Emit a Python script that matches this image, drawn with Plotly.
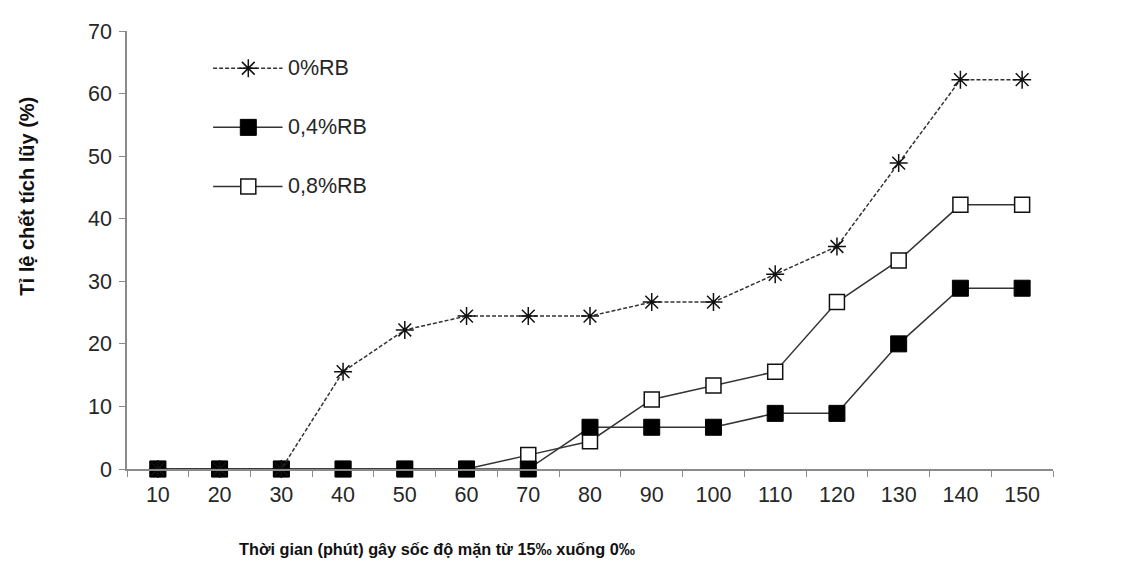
import plotly.graph_objects as go

categories = ["10", "20", "30", "40", "50", "60", "70", "80", "90", "100", "110", "120", "130", "140", "150"]
rb_0 = [0, 0, 0, 15.56, 22.22, 24.44, 24.44, 24.44, 26.67, 26.67, 31.11, 35.56, 48.89, 62.22, 62.22]
rb_04 = [0, 0, 0, 0, 0, 0, 0, 6.67, 6.67, 6.67, 8.89, 8.89, 20.0, 28.89, 28.89]
rb_08 = [0, 0, 0, 0, 0, 0, 2.22, 4.44, 11.11, 13.33, 15.56, 26.67, 33.33, 42.22, 42.22]
series_names = ["0%RB", "0,4%RB", "0,8%RB"]
end_labels = ["62,22<sup>b</sup>", "28,89<sup>a</sup>", "42,22<sup>a</sup>"]
y_ticks = [0, 10, 20, 30, 40, 50, 60, 70]

FONT = "Liberation Sans, Arial, sans-serif"
TXT = "#262626"
AX = "#8a8a8a"
LINE = "#333333"

styles = [
    dict(line=dict(color=LINE, width=1.5, dash="4px,2px"),
         marker=dict(symbol="asterisk-open", size=15, color="#111", line=dict(color="#111", width=1.5))),
    dict(line=dict(color=LINE, width=1.5),
         marker=dict(symbol="square", size=16, color="#000", line=dict(color="#000", width=1))),
    dict(line=dict(color=LINE, width=1.5),
         marker=dict(symbol="square", size=15, color="#fff", line=dict(color="#111", width=1.5))),
]
series = [rb_0, rb_04, rb_08]
draw_order = [2, 1, 0]

fig = go.Figure()
for i in draw_order:
    fig.add_trace(go.Scatter(x=categories, y=series[i], mode="lines+markers", name=series_names[i],
                             showlegend=False, cliponaxis=False, **styles[i]))

# custom legend (drawn on an overlay axis in plot-fraction units)
legend_rows = [0.915, 0.780, 0.645]
legend_x = [0.093, 0.168]
legend_mid = 0.131
for i in range(3):
    st = styles[i]
    fig.add_trace(go.Scatter(x=legend_x, y=[legend_rows[i]] * 2, mode="lines", line=st["line"],
                             xaxis="x2", yaxis="y2", showlegend=False, hoverinfo="skip"))
    fig.add_trace(go.Scatter(x=[legend_mid], y=[legend_rows[i]], mode="markers", marker=st["marker"],
                             xaxis="x2", yaxis="y2", showlegend=False, hoverinfo="skip"))
    fig.add_annotation(x=legend_x[1], y=legend_rows[i], xref="x2", yref="y2", text=series_names[i],
                       showarrow=False, xanchor="left", xshift=3, font=dict(family=FONT, size=21.5, color=TXT))

for i in range(3):
    fig.add_annotation(x=categories[-1], y=series[i][-1], text=end_labels[i], showarrow=False,
                       xanchor="left", xshift=21, font=dict(family=FONT, size=21.5, color=TXT))

fig.add_annotation(x=0.335, y=-0.207, xref="paper", yref="paper",
                   text="<b>Thời gian (phút) gây sốc độ mặn từ 15‰ xuống 0‰</b>", showarrow=False,
                   font=dict(family=FONT, size=16.3, color="#111"))
fig.add_annotation(x=-0.123, y=0.622, xref="paper", yref="paper", textangle=-90,
                   text="<b>Tỉ lệ chết tích lũy (%)</b>", showarrow=False,
                   font=dict(family=FONT, size=20, color="#111"))

fig.update_layout(
    width=1122, height=569,
    margin=dict(l=119, r=77, t=16, b=108),
    paper_bgcolor="white", plot_bgcolor="white",
    font=dict(family=FONT, size=21, color=TXT),
    xaxis=dict(type="category", range=[-0.5, 14.5], tickson="boundaries", ticks="outside", ticklen=6,
               tickcolor=AX, showline=True, linecolor=AX, linewidth=1.5, showgrid=False, zeroline=False,
               ticklabelstandoff=5,
               tickfont=dict(family=FONT, size=21.5, color=TXT)),
    yaxis=dict(range=[0, 70], tickvals=y_ticks, ticks="outside", ticklen=6, tickcolor=AX,
               showline=True, linecolor=AX, linewidth=1.5, showgrid=False, zeroline=False,
               ticklabelstandoff=3,
               tickfont=dict(family=FONT, size=21.5, color=TXT)),
    xaxis2=dict(overlaying="x", range=[0, 1], visible=False),
    yaxis2=dict(overlaying="y", range=[0, 1], visible=False),
    showlegend=False,
)

fig.write_html("out.html")
